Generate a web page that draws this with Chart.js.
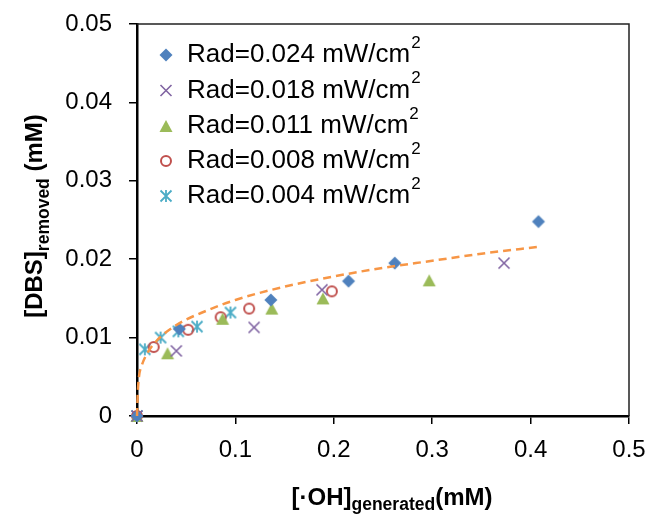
<!DOCTYPE html>
<html>
<head>
<meta charset="utf-8">
<script src="https://cdn.jsdelivr.net/npm/chart.js@4/dist/chart.umd.min.js"></script>
<style>
  html, body { margin: 0; padding: 0; background: #fff; }
  #wrap { width: 651px; height: 518px; }
</style>
</head>
<body>
<div id="wrap"><canvas id="myChart" width="651" height="518"></canvas></div>
<script>
// ═══════════════════════════════════════
//  DATA
// ═══════════════════════════════════════

const seriesNames = ['Rad=0.024 mW/cm', 'Rad=0.018 mW/cm', 'Rad=0.011 mW/cm', 'Rad=0.008 mW/cm', 'Rad=0.004 mW/cm'];

const rad024X = [0, 0.043, 0.136, 0.215, 0.262, 0.408];
const rad024Y = [0, 0.0111, 0.0148, 0.0172, 0.0195, 0.0248];

const rad018X = [0, 0.040, 0.119, 0.188, 0.373];
const rad018Y = [0, 0.0083, 0.0113, 0.0161, 0.0195];

const rad011X = [0, 0.031, 0.087, 0.137, 0.189, 0.297];
const rad011Y = [0, 0.0080, 0.0124, 0.0137, 0.0150, 0.0173];

const rad008X = [0, 0.017, 0.052, 0.085, 0.114, 0.198];
const rad008Y = [0, 0.0088, 0.0110, 0.0126, 0.0137, 0.0159];

const rad004X = [0, 0.008, 0.024, 0.042, 0.061, 0.095];
const rad004Y = [0, 0.0085, 0.0100, 0.0108, 0.0114, 0.0132];

// dashed trend curve
const trendX = [0, 0.0008, 0.002, 0.005, 0.01, 0.02, 0.04, 0.07, 0.1, 0.15, 0.2, 0.25, 0.3, 0.35, 0.41];
const trendY = [0, 0.0030, 0.0050, 0.0065, 0.0079, 0.0096, 0.0116, 0.0134, 0.0148, 0.0165, 0.0178, 0.0189, 0.0198, 0.0207, 0.0216];

const xTicks = [0, 0.1, 0.2, 0.3, 0.4, 0.5];
const xTickLabels = ['0', '0.1', '0.2', '0.3', '0.4', '0.5'];
const yTicks = [0, 0.01, 0.02, 0.03, 0.04, 0.05];
const yTickLabels = ['0', '0.01', '0.02', '0.03', '0.04', '0.05'];

// ═══════════════════════════════════════
//  MARKERS
// ═══════════════════════════════════════

const FONT = '"Liberation Sans", Arial, sans-serif';
const colors = ['#4F81BD', '#8064A2', '#9BBB59', '#C0504D', '#4BACC6'];

function drawMarker(ctx, kind, x, y, color) {
  ctx.save();
  ctx.fillStyle = color;
  ctx.strokeStyle = color;
  ctx.beginPath();
  if (kind === 'diamond') {
    const r = 6.5;
    ctx.moveTo(x, y - r); ctx.lineTo(x + r, y); ctx.lineTo(x, y + r); ctx.lineTo(x - r, y);
    ctx.closePath(); ctx.fill();
  } else if (kind === 'x') {
    const r = 5.5;
    ctx.lineWidth = 1.6;
    ctx.moveTo(x - r, y - r); ctx.lineTo(x + r, y + r);
    ctx.moveTo(x + r, y - r); ctx.lineTo(x - r, y + r);
    ctx.stroke();
  } else if (kind === 'triangle') {
    const w = 6.5, h = 12;
    ctx.moveTo(x, y - h / 2); ctx.lineTo(x + w, y + h / 2); ctx.lineTo(x - w, y + h / 2);
    ctx.closePath(); ctx.fill();
  } else if (kind === 'circle') {
    ctx.lineWidth = 2;
    ctx.arc(x, y, 5, 0, Math.PI * 2);
    ctx.stroke();
  } else if (kind === 'star') {
    const r = 5.5;
    ctx.lineWidth = 1.8;
    ctx.moveTo(x - r, y - r); ctx.lineTo(x + r, y + r);
    ctx.moveTo(x + r, y - r); ctx.lineTo(x - r, y + r);
    ctx.moveTo(x, y - r - 0.5); ctx.lineTo(x, y + r + 0.5);
    ctx.stroke();
  }
  ctx.restore();
}

const markerKinds = ['diamond', 'x', 'triangle', 'circle', 'star'];

function markerImage(kind, color) {
  const c = document.createElement('canvas');
  c.width = 18; c.height = 18;
  drawMarker(c.getContext('2d'), kind, 9, 9, color);
  return c;
}

const pts = (xs, ys) => xs.map((x, i) => ({ x, y: ys[i] }));

// ═══════════════════════════════════════
//  DECOR PLUGIN (frame, legend, titles)
// ═══════════════════════════════════════

const decor = {
  id: 'decor',
  beforeDatasetsDraw(chart) {
    const { ctx, chartArea: a } = chart;
    ctx.save();
    ctx.strokeStyle = '#222';
    ctx.lineWidth = 1.5;
    ctx.beginPath();
    ctx.moveTo(a.left, a.top); ctx.lineTo(a.right, a.top); ctx.lineTo(a.right, a.bottom);
    ctx.stroke();
    ctx.restore();
  },
  afterDraw(chart) {
    const ctx = chart.ctx;
    ctx.save();
    ctx.fillStyle = '#000';

    // legend
    const rowY = [55, 90.5, 126, 161, 196];
    seriesNames.forEach((name, i) => {
      drawMarker(ctx, markerKinds[i], 166, rowY[i], colors[i]);
      ctx.font = '26px ' + FONT;
      ctx.textBaseline = 'middle';
      ctx.textAlign = 'left';
      ctx.fillText(name, 187, rowY[i]);
      const w = ctx.measureText(name).width;
      ctx.font = '17px ' + FONT;
      ctx.fillText('2', 187 + w + 1, rowY[i] - 12);
    });

    // x title
    ctx.textBaseline = 'alphabetic';
    const big = 'bold 24px ' + FONT, small = 'bold 17.5px ' + FONT;
    const xParts = [['[·OH]', big, 0], ['generated', small, 5], ['(mM)', big, 0]];
    drawParts(ctx, xParts, 392, 505);

    // y title
    ctx.translate(42, 216);
    ctx.rotate(-Math.PI / 2);
    const yParts = [['[DBS]', big, 0], ['removed', small, 6.5], [' (mM)', big, 0]];
    drawParts(ctx, yParts, 0, 0);
    ctx.restore();
  }
};

function drawParts(ctx, parts, cx, baseY) {
  let total = 0;
  parts.forEach(p => { ctx.font = p[1]; total += ctx.measureText(p[0]).width; });
  let x = cx - total / 2;
  parts.forEach(p => {
    ctx.font = p[1];
    ctx.textAlign = 'left';
    ctx.fillText(p[0], x, baseY + p[2]);
    x += ctx.measureText(p[0]).width;
  });
}

// ═══════════════════════════════════════
//  CHART
// ═══════════════════════════════════════

const seriesX = [rad024X, rad018X, rad011X, rad008X, rad004X];
const seriesY = [rad024Y, rad018Y, rad011Y, rad008Y, rad004Y];

const datasets = [
  {
    label: 'trend',
    type: 'line',
    data: pts(trendX, trendY),
    borderColor: '#F79646',
    borderWidth: 2.5,
    borderDash: [8, 5],
    pointRadius: 0,
    fill: false,
    clip: false,
    cubicInterpolationMode: 'monotone'
  }
];
seriesNames.forEach((name, i) => {
  datasets.push({
    label: name,
    data: pts(seriesX[i], seriesY[i]),
    pointStyle: markerImage(markerKinds[i], colors[i]),
    pointRadius: 7,
    showLine: false,
    clip: false
  });
});

const tickFont = { family: FONT, size: 24 };

new Chart(document.getElementById('myChart'), {
  type: 'scatter',
  data: { datasets },
  options: {
    responsive: false,
    animation: false,
    layout: { padding: { left: 0, top: 24, right: 22, bottom: 0 } },
    plugins: { legend: { display: false }, tooltip: { enabled: false } },
    scales: {
      x: {
        type: 'linear', min: 0, max: 0.5,
        afterBuildTicks: s => { s.ticks = xTicks.map(v => ({ value: v })); },
        afterFit: s => { s.height = 102; s.paddingLeft = 0; s.paddingRight = 0; },
        ticks: { color: '#000', font: tickFont, padding: 12, callback: (v, i) => xTickLabels[i] },
        grid: { drawOnChartArea: false, drawTicks: true, tickLength: 8, color: '#000', lineWidth: 1.5 },
        border: { display: true, color: '#000', width: 2.5 }
      },
      y: {
        type: 'linear', min: 0, max: 0.05,
        afterBuildTicks: s => { s.ticks = yTicks.map(v => ({ value: v })); },
        afterFit: s => { s.width = 137; s.paddingTop = 0; s.paddingBottom = 0; },
        ticks: { color: '#000', font: tickFont, padding: 17, callback: (v, i) => yTickLabels[i] },
        grid: { drawOnChartArea: false, drawTicks: true, tickLength: 8, color: '#000', lineWidth: 1.5 },
        border: { display: true, color: '#000', width: 2.5 }
      }
    }
  },
  plugins: [decor]
});
</script>
</body>
</html>
